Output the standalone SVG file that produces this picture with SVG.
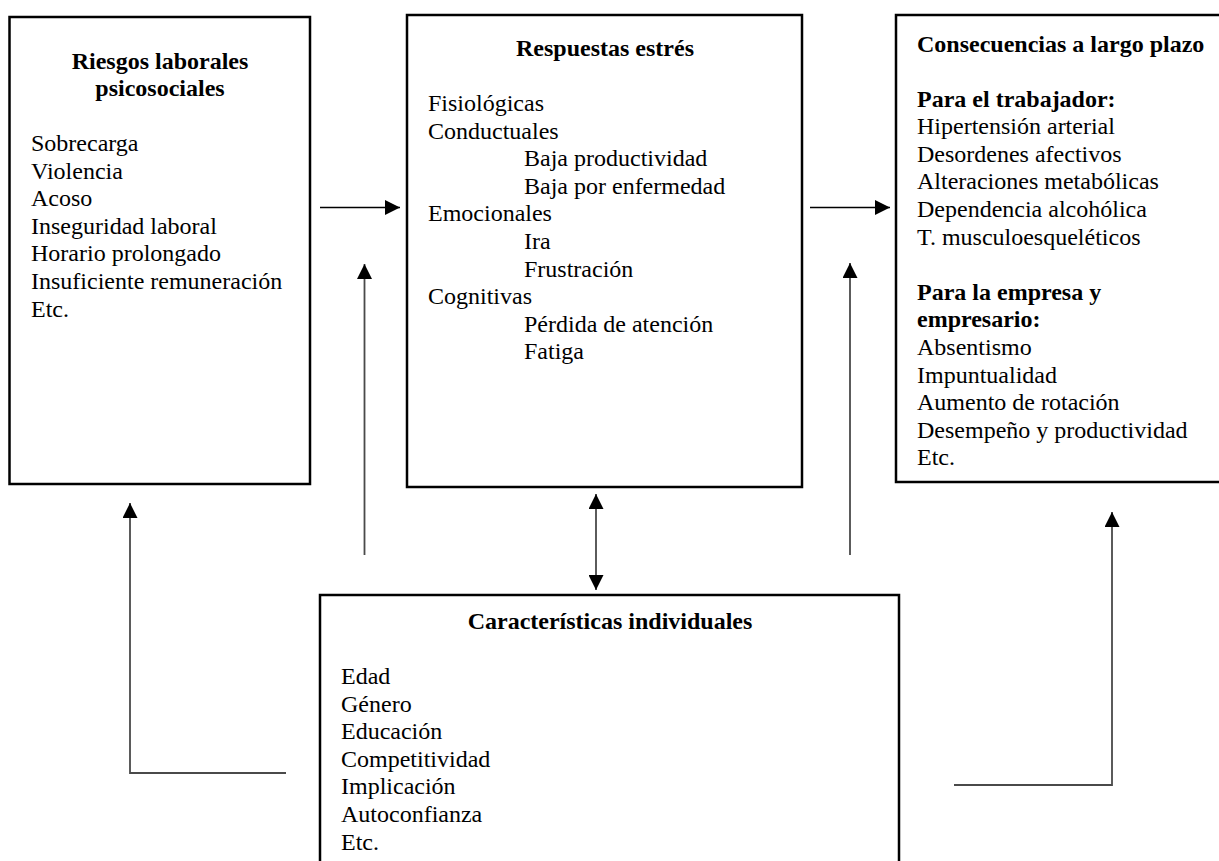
<svg xmlns="http://www.w3.org/2000/svg" width="1219" height="861" viewBox="0 0 1219 861">
<style>
.box{fill:#fff;stroke:#000;stroke-width:2.5}
.t{font-family:"Liberation Serif","Times New Roman",serif;font-size:24px;fill:#000}
.b{font-weight:bold}
.c{text-anchor:middle}
.con{fill:none;stroke:#4a4a4a;stroke-width:1.8}
.hcon{fill:none;stroke:#000;stroke-width:1.3}
</style>
<defs>
<marker id="ah" viewBox="0 0 15 15" markerWidth="15" markerHeight="15" markerUnits="userSpaceOnUse" refX="15" refY="7.5" orient="auto-start-reverse">
<path d="M0,0 L15,7.5 L0,15 z" fill="#000"/>
</marker>
</defs>
<rect width="1219" height="861" fill="#fff"/>
<g id="riesgos">
<rect class="box" x="9.5" y="17" width="300.5" height="467"/>
<text class="t b c" x="160" y="68.5">Riesgos laborales</text>
<text class="t b c" x="160" y="95.5">psicosociales</text>
<text class="t" x="31" y="151">Sobrecarga</text>
<text class="t" x="31" y="178.6">Violencia</text>
<text class="t" x="31" y="206.2">Acoso</text>
<text class="t" x="31" y="233.8">Inseguridad laboral</text>
<text class="t" x="31" y="261.4">Horario prolongado</text>
<text class="t" x="31" y="289">Insuficiente remuneración</text>
<text class="t" x="31" y="316.6">Etc.</text>
</g>
<g id="respuestas">
<rect class="box" x="407" y="15" width="395" height="472"/>
<text class="t b c" x="605" y="56">Respuestas estrés</text>
<text class="t" x="428" y="111">Fisiológicas</text>
<text class="t" x="428" y="138.6">Conductuales</text>
<text class="t" x="524" y="166.2">Baja productividad</text>
<text class="t" x="524" y="193.8">Baja por enfermedad</text>
<text class="t" x="428" y="221.4">Emocionales</text>
<text class="t" x="524" y="249">Ira</text>
<text class="t" x="524" y="276.6">Frustración</text>
<text class="t" x="428" y="304.2">Cognitivas</text>
<text class="t" x="524" y="331.8">Pérdida de atención</text>
<text class="t" x="524" y="359.4">Fatiga</text>
</g>
<g id="consecuencias">
<rect class="box" x="896" y="15" width="340" height="467"/>
<text class="t b" x="917" y="51.5">Consecuencias a largo plazo</text>
<text class="t b" x="917" y="106.5">Para el trabajador:</text>
<text class="t" x="917" y="134.1">Hipertensión arterial</text>
<text class="t" x="917" y="161.7">Desordenes afectivos</text>
<text class="t" x="917" y="189.3">Alteraciones metabólicas</text>
<text class="t" x="917" y="216.9">Dependencia alcohólica</text>
<text class="t" x="917" y="244.5">T. musculoesqueléticos</text>
<text class="t b" x="917" y="299.7">Para la empresa y</text>
<text class="t b" x="917" y="327.3">empresario:</text>
<text class="t" x="917" y="354.9">Absentismo</text>
<text class="t" x="917" y="382.5">Impuntualidad</text>
<text class="t" x="917" y="410.1">Aumento de rotación</text>
<text class="t" x="917" y="437.7">Desempeño y productividad</text>
<text class="t" x="917" y="465.3">Etc.</text>
</g>
<g id="caracteristicas">
<rect class="box" x="320" y="595" width="579" height="300"/>
<text class="t b c" x="610" y="629">Características individuales</text>
<text class="t" x="341" y="684">Edad</text>
<text class="t" x="341" y="711.6">Género</text>
<text class="t" x="341" y="739.2">Educación</text>
<text class="t" x="341" y="766.8">Competitividad</text>
<text class="t" x="341" y="794.4">Implicación</text>
<text class="t" x="341" y="822">Autoconfianza</text>
<text class="t" x="341" y="849.6">Etc.</text>
</g>
<g id="connectors">
<line class="hcon" x1="320" y1="207.5" x2="400" y2="207.5" marker-end="url(#ah)"/>
<line class="hcon" x1="810" y1="207.5" x2="890" y2="207.5" marker-end="url(#ah)"/>
<line class="con" x1="364.5" y1="555" x2="364.5" y2="264" marker-end="url(#ah)"/>
<line class="con" x1="850" y1="555" x2="850" y2="263" marker-end="url(#ah)"/>
<line class="con" x1="596" y1="494" x2="596" y2="590" marker-start="url(#ah)" marker-end="url(#ah)"/>
<polyline class="con" points="286,773 130,773 130,503" marker-end="url(#ah)"/>
<polyline class="con" points="954,785 1112,785 1112,512" marker-end="url(#ah)"/>
</g>
</svg>
